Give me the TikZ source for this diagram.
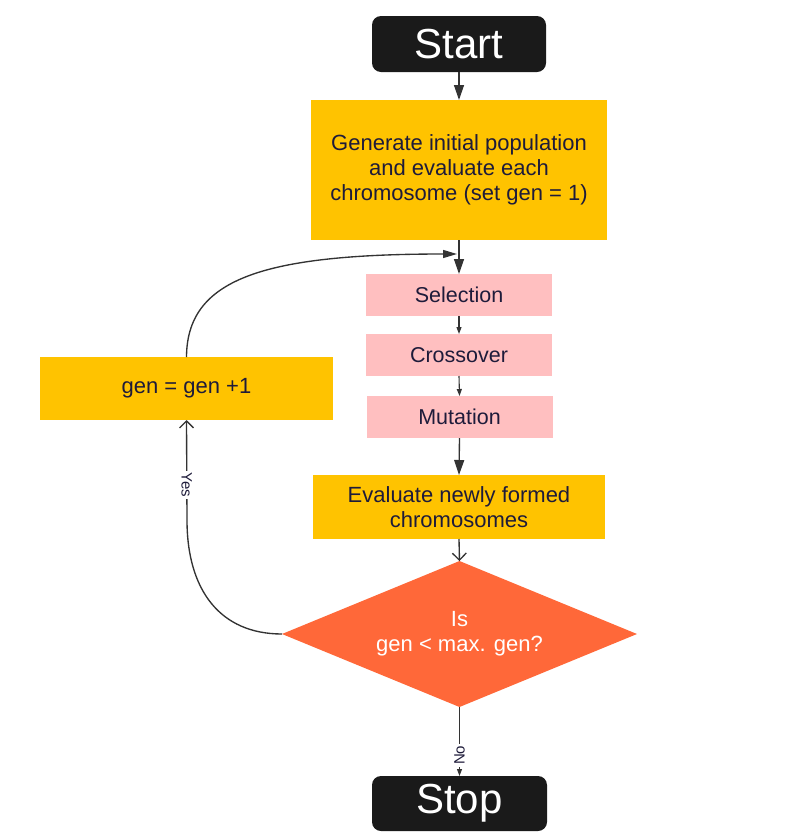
\documentclass[tikz,border=0pt]{standalone}
\usepackage{fontspec}
\setmainfont{Liberation Sans}
\usetikzlibrary{arrows.meta,shapes.geometric}
\definecolor{amber}{HTML}{FFC300}
\definecolor{pinkbox}{HTML}{FFBFC0}
\definecolor{tomatod}{HTML}{FF6839}
\definecolor{termblack}{HTML}{1A1A1A}
\definecolor{inkblue}{HTML}{1E1B3A}
\definecolor{linegray}{HTML}{333333}
\begin{document}
\begin{tikzpicture}[x=1pt,y=-1pt,
  terminal/.style={draw=none,fill=termblack,rounded corners=9pt,text=white,
    font=\fontsize{42}{44}\selectfont,inner sep=0pt,outer sep=0pt},
  yellowbox/.style={draw=none,fill=amber,text=inkblue,align=center,
    font=\fontsize{22}{25}\selectfont,inner sep=0pt,outer sep=0pt},
  pinkstep/.style={draw=none,fill=pinkbox,text=inkblue,
    font=\fontsize{21.5}{24}\selectfont,inner sep=0pt,outer sep=0pt,
    minimum width=186pt,minimum height=42pt},
  decision/.style={diamond,draw=none,fill=tomatod,text=white,align=center,
    font=\fontsize{22}{25}\selectfont,inner sep=0pt,outer sep=0pt,
    shape aspect=2.43,minimum width=355pt,minimum height=146pt},
  conn/.style={draw=linegray,line width=1.35pt},
  bighead/.style={conn,-{Triangle[length=15pt,width=10pt]}},
  smallhead/.style={conn,line width=1.1pt,-{Triangle[length=7pt,width=5pt]}},
  openhead/.style={conn,-{Straight Barb[length=7pt,width=14pt,line width=1.3pt]}},
  edgelabel/.style={fill=white,text=inkblue,font=\fontsize{15}{17}\selectfont,
    inner sep=2pt}
]
\useasboundingbox (0,0) rectangle (800,839);

\node[terminal,minimum width=174pt,minimum height=56pt] (start) at (459,44) {Start};
\node[yellowbox,minimum width=296pt,minimum height=140pt] (init) at (459,170)
  {\raisebox{0pt}[\height][\depth]{}Generate initial population\\and evaluate each\\chromosome (set gen = 1)};
\node[pinkstep] (sel) at (459,295) {Selection};
\node[pinkstep] (cross) at (459,355) {Crossover};
\node[pinkstep] (mut) at (459.5,417) {Mutation};
\node[yellowbox,minimum width=292pt,minimum height=64pt] (eval) at (459,507)
  {Evaluate newly formed\\chromosomes};
\node[decision] (dec) at (459.5,634) {Is\\gen < max. gen?};
\node[yellowbox,minimum width=293pt,minimum height=63pt] (incr) at (186.5,388.5)
  {gen = gen +1};
\node[terminal,minimum width=175pt,minimum height=55pt] (stop) at (459.5,803.5) {Stop};

\coordinate (join) at (457,254);

\draw[bighead] (start.south) -- (init.north);
\draw[bighead] (init.south) -- (sel.north);
\draw[smallhead] (sel.south) -- (cross.north);
\draw[smallhead] (cross.south) -- (mut.north);
\draw[bighead] (mut.south) -- (eval.north);
\draw[openhead] (eval.south) -- (dec.north);
\draw[conn,-{Triangle[length=14pt,width=8pt]}] (incr.north) .. controls (187,280) and (260,254) .. (join);
\draw[openhead] (dec.west) .. controls (220,634) and (187,590) .. (187,520)
  -- node[edgelabel,pos=0.35,rotate=-90] {Yes} (incr.south);
\draw[smallhead] (dec.south) -- node[edgelabel,pos=0.7,rotate=90] {No} (stop.north);
\end{tikzpicture}
\end{document}
